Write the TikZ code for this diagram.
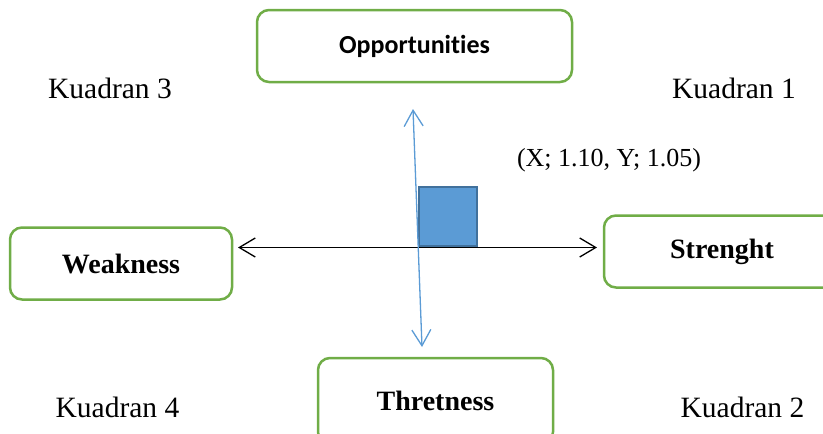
\documentclass[tikz,border=0pt]{standalone}
\usepackage{fontspec}
\setmainfont{Liberation Serif}
\newfontfamily\carlito[Ligatures=NoCommon]{Carlito}
\usetikzlibrary{arrows.meta}
\definecolor{boxgreen}{HTML}{70AD47}
\definecolor{sqblue}{HTML}{5B9BD5}
\definecolor{sqborder}{HTML}{41719C}
\tikzset{
  swot/.style={draw=boxgreen, line width=2.5pt, rounded corners=12pt, fill=white, inner sep=0pt, font=\fontsize{28}{30}\selectfont\bfseries},
  quad/.style={inner sep=0pt, font=\fontsize{29.5}{32}\selectfont},
  barb/.tip={Straight Barb[length=16pt,width=19pt]}
}
\begin{document}
\begin{tikzpicture}[x=1pt,y=-1pt]
\useasboundingbox (0,0) rectangle (823,434);
\node[swot, minimum width=315pt, minimum height=72pt, font=\fontsize{26}{28}\selectfont\carlito\bfseries] (opp) at (414.5,46) {Opportunities};
\node[swot, minimum width=222pt, minimum height=72pt] (weak) at (121,263.5) {Weakness};
\node[swot, minimum width=236pt, minimum height=72pt] (str) at (722,251.5) {Strenght};
\node[swot, minimum width=235pt, minimum height=86pt] (thr) at (435.5,401) {Thretness};
\node[quad] (k3) at (110,88) {Kuadran 3};
\node[quad] (k1) at (734,88) {Kuadran 1};
\node[quad] (k4) at (117.5,407) {Kuadran 4};
\node[quad] (k2) at (742.5,407) {Kuadran 2};
\node[inner sep=0pt, font=\fontsize{26}{28}\selectfont] (xy) at (609,160) {(X; 1.10, Y; 1.05)};
\node[draw=sqborder, fill=sqblue, line width=2.5pt, minimum width=58pt, minimum height=59pt, inner sep=0pt] (sq) at (448,216.5) {};
\coordinate (hl) at (238,247.5);
\coordinate (hr) at (597,247.5);
\coordinate (vt) at (413,109);
\coordinate (vb) at (422,347);
\draw[black, line width=1.3pt, barb-barb] (hl) -- (hr);
\draw[sqblue, line width=1.3pt, barb-barb] (vb) -- (vt);
\end{tikzpicture}
\end{document}
